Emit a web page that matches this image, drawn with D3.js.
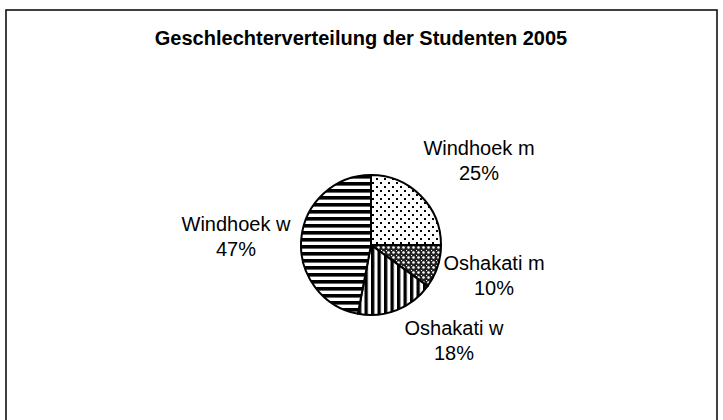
<!DOCTYPE html>
<html><head><meta charset="utf-8">
<script src="https://cdn.jsdelivr.net/npm/d3@7"></script>
<style>body{margin:0;background:#fff;}svg{display:block;}</style>
</head><body>
<svg id="chart" width="723" height="420"></svg>
<script>
const title = "Geschlechterverteilung der Studenten 2005";
const categories = ["Windhoek m", "Oshakati m", "Oshakati w", "Windhoek w"];
const values = [25, 10, 18, 47];
const percentLabels = ["25%", "10%", "18%", "47%"];
const patterns = ["dots", "lattice", "vstripes", "hstripes"];
const labelPos = [[479, 155], [494, 270], [454, 335], [236, 231]];

const svg = d3.select("#chart");
const defs = svg.append("defs");

// dots
let p = defs.append("pattern").attr("id", "dots").attr("patternUnits", "userSpaceOnUse").attr("width", 8).attr("height", 8);
p.append("rect").attr("width", 8).attr("height", 8).attr("fill", "#fff");
p.append("rect").attr("x", 1).attr("y", 1).attr("width", 2).attr("height", 2).attr("fill", "#000");
p.append("rect").attr("x", 5).attr("y", 5).attr("width", 2).attr("height", 2).attr("fill", "#000");
// lattice
p = defs.append("pattern").attr("id", "lattice").attr("patternUnits", "userSpaceOnUse").attr("width", 5).attr("height", 5);
p.append("rect").attr("width", 5).attr("height", 5).attr("fill", "#222");
p.append("circle").attr("cx", 2.5).attr("cy", 2.5).attr("r", 1.3).attr("fill", "#fff");
p.append("rect").attr("x", 0).attr("y", 0).attr("width", 1).attr("height", 1).attr("fill", "#fff");
// vertical stripes
p = defs.append("pattern").attr("id", "vstripes").attr("patternUnits", "userSpaceOnUse").attr("width", 6.5).attr("height", 6.5);
p.append("rect").attr("width", 6.5).attr("height", 6.5).attr("fill", "#fff");
p.append("rect").attr("x", 0).attr("width", 3.3).attr("height", 6.5).attr("fill", "#000");
// horizontal stripes
p = defs.append("pattern").attr("id", "hstripes").attr("patternUnits", "userSpaceOnUse").attr("width", 7).attr("height", 7);
p.append("rect").attr("width", 7).attr("height", 7).attr("fill", "#fff");
p.append("rect").attr("y", 0).attr("width", 7).attr("height", 3.6).attr("fill", "#000");

// frame (bottom edge extends beyond view)
svg.append("rect").attr("x", 6).attr("y", 10).attr("width", 711).attr("height", 440)
  .attr("fill", "none").attr("stroke", "#111").attr("stroke-width", 1.6);

svg.append("text").attr("x", 361).attr("y", 45).attr("text-anchor", "middle")
  .attr("font-family", "Liberation Sans, Arial, sans-serif").attr("font-weight", "bold")
  .attr("font-size", 20).attr("fill", "#000").text(title);

const cx = 371, cy = 245, r = 70;
const pie = d3.pie().sort(null).value(d => d)(values);
const arc = d3.arc().innerRadius(0).outerRadius(r);
const g = svg.append("g").attr("transform", `translate(${cx},${cy})`);
g.selectAll("path").data(pie).join("path")
  .attr("d", arc)
  .attr("fill", (d, i) => `url(#${patterns[i]})`)
  .attr("stroke", "#000").attr("stroke-width", 2).attr("stroke-linejoin", "round");

const lg = svg.append("g").attr("font-family", "Liberation Sans, Arial, sans-serif").attr("font-size", 20).attr("fill", "#000");
categories.forEach((c, i) => {
  const t = lg.append("text").attr("text-anchor", "middle").attr("x", labelPos[i][0]).attr("y", labelPos[i][1]);
  t.append("tspan").attr("x", labelPos[i][0]).attr("dy", 0).text(c);
  t.append("tspan").attr("x", labelPos[i][0]).attr("dy", 25).text(percentLabels[i]);
});
</script>
</body></html>
